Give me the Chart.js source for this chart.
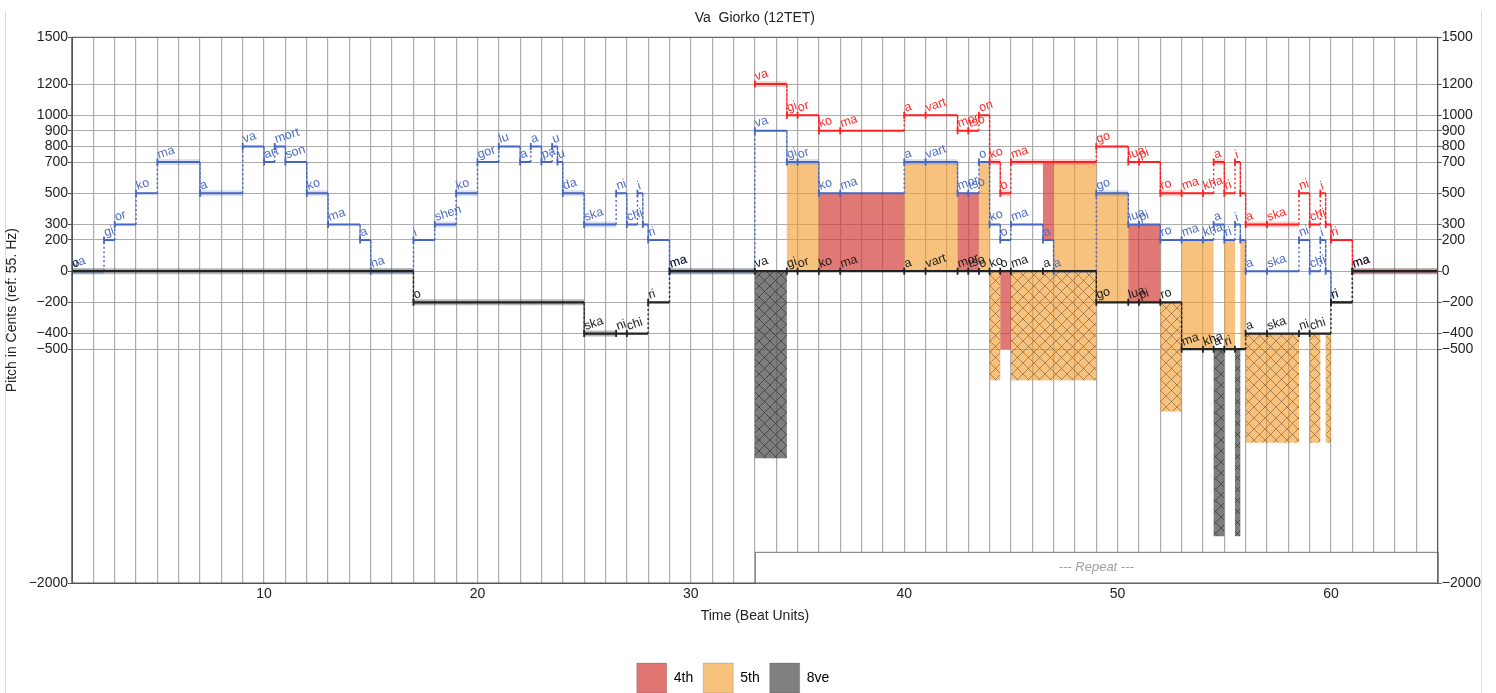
<!DOCTYPE html>
<html lang="en">
<head>
<meta charset="UTF-8">
<title>Va Giorko (12TET)</title>
<script src="https://cdn.jsdelivr.net/npm/chart.js"></script>
<style>
  html, body { margin: 0; padding: 0; background: #fff; }
  canvas { display: block; }
</style>
</head>
<body>
<canvas id="chart" width="1496" height="693"></canvas>
<script>
  // axes
  const xMin = 1, xMax = 65;
  const yMin = -2000, yMax = 1500;
  const yTicks = [1500, 1200, 1000, 900, 800, 700, 500, 300, 200, 0, -200, -400, -500, -2000];

  // voices: note onsets (last value = end of last note), pitch in cents, syllables
  const blueBeats = [1, 2.5, 3, 4, 5, 7, 9, 10, 10.5, 11, 12, 13, 14.5, 15, 17, 18, 19, 20, 21, 22, 22.5, 23, 23.5, 23.75, 24, 25, 26.5, 27, 27.5, 27.75, 28, 29,
                     33, 34.5, 35, 36, 37, 40, 41, 42.5, 43, 43.5, 44, 44.5, 45, 46.5, 47, 49, 50.5, 51, 52, 53, 54, 54.5, 55, 55.5, 55.75, 56, 57, 58.5, 59, 59.5, 59.75, 60, 61, 65];
  const bluePitch = [0, 200, 300, 500, 700, 500, 800, 700, 800, 700, 500, 300, 200, 0, 200, 300, 500, 700, 800, 700, 800, 700, 800, 700, 500, 300, 500, 300, 500, 300, 200, 0,
                     900, 700, 700, 500, 500, 700, 700, 500, 500, 700, 300, 200, 300, 200, 0, 500, 300, 300, 200, 200, 200, 300, 200, 300, 200, 0, 0, 200, 0, 200, 0, -200, 0];
  const blueSyl = ['va', 'gi', 'or', 'ko', 'ma', 'a', 'va', 'art', 'mort', 'son', 'ko', 'ma', 'a', 'na', 'i', 'shen', 'ko', 'gor', 'lu', 'a', 'a', 'pa', 'u', 'u', 'da', 'ska', 'ni', 'chi', 'i', '', 'ri', 'ma',
                   'va', 'gi', 'or', 'ko', 'ma', 'a', 'vart', 'mor', 'tso', 'o', 'ko', 'o', 'ma', 'a', 'a', 'go', 'lua', 'pi', 'ro', 'ma', 'kha', 'a', 'ri', 'i', '', 'a', 'ska', 'ni', 'chi', 'i', '', 'ri', 'ma'];
  const blueHeld = [1, 5, 7, 12, 15, 18, 19, 24, 25, 29, 34.5, 35, 40, 41, 49];

  const redBeats = [33, 34.5, 35, 36, 37, 40, 41, 42.5, 43, 43.5, 44, 44.5, 45, 49, 50.5, 51, 52, 53, 54, 54.5, 55, 55.5, 55.75, 56, 57, 58.5, 59, 59.5, 59.75, 60, 61, 65];
  const redPitch = [1200, 1000, 1000, 900, 900, 1000, 1000, 900, 900, 1000, 700, 500, 700, 800, 700, 700, 500, 500, 500, 700, 500, 700, 500, 300, 300, 500, 300, 500, 300, 200, 0];
  const redSyl = ['va', 'gi', 'or', 'ko', 'ma', 'a', 'vart', 'mor', 'tso', 'on', 'ko', 'o', 'ma', 'go', 'lua', 'pi', 'ro', 'ma', 'kha', 'a', 'ri', 'i', '', 'a', 'ska', 'ni', 'chi', 'i', '', 'ri', 'ma'];
  const redHeld = [33, 44, 44.5, 45, 52, 54.5, 56, 57, 61];

  const blackBeats = [1, 17, 25, 26.5, 27, 28, 29, 33, 34.5, 35, 36, 37, 40, 41, 42.5, 43, 43.5, 44, 44.5, 45, 46.5, 49, 50.5, 51, 52, 53, 54, 54.5, 55, 55.5, 56, 57, 58.5, 59, 60, 61, 65];
  const blackPitch = [0, -200, -400, -400, -400, -200, 0, 0, 0, 0, 0, 0, 0, 0, 0, 0, 0, 0, 0, 0, 0, -200, -200, -200, -200, -500, -500, -500, -500, -500, -400, -400, -400, -400, -200, 0];
  const blackSyl = ['o', 'o', 'ska', 'ni', 'chi', 'ri', 'ma', 'va', 'gi', 'or', 'ko', 'ma', 'a', 'vart', 'mor', 'tso', 'o', 'ko', 'o', 'ma', 'a', 'go', 'lua', 'pi', 'ro', 'ma', 'kha', 'a', 'ri', '', 'a', 'ska', 'ni', 'chi', 'ri', 'ma'];
  const blackHeld = [1, 17, 25, 29, 61];

  // interval areas: [from beat, to beat, low cents, high cents]
  const fourthSolid = [[36, 40, 0, 500], [42.5, 43.5, 0, 500], [46.5, 47, 200, 700], [50.5, 52, -200, 300], [44.5, 45, -500, 0]];
  const fifthSolid = [[34.5, 36, 0, 700], [40, 42.5, 0, 700], [43.5, 44, 0, 700], [47, 49, 0, 700], [49, 50.5, -200, 500],
                      [53, 54.5, -500, 200], [55, 55.5, -500, 200], [55.75, 56, -500, 200]];
  const fifthHatched = [[44, 44.5, -700, 0], [45, 49, -700, 0], [52, 53, -900, -200], [56, 58.5, -1100, -400], [59, 59.5, -1100, -400], [59.75, 60, -1100, -400]];
  const octaveHatched = [[33, 34.5, -1200, 0], [54.5, 55, -1700, -500], [55.5, 55.75, -1700, -500]];

  const repeatSpan = [33, 65];
  const repeatBand = [-2000, -1800];
  const legendNames = ['4th', '5th', '8ve'];
  const legendColors = ['#df7671', '#f6c27e', '#808080'];

  const FONT = '"Liberation Sans", Arial, sans-serif';
  const canvas = document.getElementById('chart');

  function stepPoints(beats, pitch) {
    const pts = [];
    pitch.forEach((p, i) => { pts.push({ x: beats[i], y: p }, { x: beats[i + 1], y: p }); });
    return pts;
  }
  function heldPoints(beats, pitch, held) {
    const pts = [];
    pitch.forEach((p, i) => {
      if (held.includes(beats[i])) pts.push({ x: beats[i], y: p }, { x: beats[i + 1], y: p }, { x: beats[i + 1], y: null });
    });
    return pts;
  }
  const vertical = c => c.p0.parsed.x === c.p1.parsed.x;

  function voice(label, beats, pitch, color, width) {
    return {
      label,
      data: stepPoints(beats, pitch),
      showLine: true,
      borderColor: color,
      backgroundColor: color,
      borderWidth: width,
      pointStyle: 'line',
      rotation: 90,
      pointRadius: c => (c.dataIndex % 2 === 0 ? 3.5 : 0),
      pointBorderColor: color,
      pointBorderWidth: 1.8,
      segment: {
        borderDash: c => (vertical(c) ? [2, 2.5] : undefined),
        borderWidth: c => (vertical(c) ? 1.4 : undefined)
      }
    };
  }
  function glow(label, beats, pitch, held, color) {
    return {
      label,
      data: heldPoints(beats, pitch, held),
      showLine: true,
      spanGaps: false,
      borderColor: color,
      borderWidth: 6,
      borderCapStyle: 'butt',
      pointRadius: 0
    };
  }

  function hatch(base, line) {
    const t = document.createElement('canvas');
    t.width = 11; t.height = 11;
    const g = t.getContext('2d');
    g.fillStyle = base; g.fillRect(0, 0, 11, 11);
    g.strokeStyle = line; g.lineWidth = 0.9;
    g.beginPath();
    g.moveTo(-1, -1); g.lineTo(12, 12);
    g.moveTo(12, -1); g.lineTo(-1, 12);
    g.stroke();
    return canvas.getContext('2d').createPattern(t, 'repeat');
  }

  const fourthFill = 'rgba(209,58,51,0.68)';
  const fifthFill = 'rgba(240,153,40,0.6)';
  const octaveFill = 'rgba(90,90,90,0.78)';
  const fifthHatch = hatch(fifthFill, 'rgba(80,55,30,0.5)');
  const octaveHatch = hatch(octaveFill, 'rgba(30,30,30,0.6)');

  const intervalPlugin = {
    id: 'intervals',
    beforeDraw(chart) {
      const { ctx } = chart;
      ctx.save();
      ctx.strokeStyle = '#dcdcdc';
      ctx.lineWidth = 1;
      ctx.beginPath();
      ctx.moveTo(5.5, 11); ctx.lineTo(5.5, 693);
      ctx.moveTo(1481.5, 11); ctx.lineTo(1481.5, 693);
      ctx.stroke();
      ctx.restore();
    },
    beforeDatasetsDraw(chart) {
      const { ctx, scales: { x, y } } = chart;
      ctx.save();
      const rx0 = x.getPixelForValue(repeatSpan[0]), rx1 = x.getPixelForValue(repeatSpan[1]);
      const ry0 = y.getPixelForValue(repeatBand[1]), ry1 = y.getPixelForValue(repeatBand[0]);
      ctx.fillStyle = '#fff';
      ctx.fillRect(rx0, ry0, rx1 - rx0, ry1 - ry0);
      ctx.strokeStyle = '#777';
      ctx.lineWidth = 1;
      ctx.strokeRect(rx0 + 0.5, ry0 + 0.5, rx1 - rx0, ry1 - ry0);
      ctx.fillStyle = '#a0a0a0';
      ctx.font = 'italic 13px ' + FONT;
      ctx.textAlign = 'center';
      ctx.textBaseline = 'middle';
      ctx.fillText('--- Repeat ---', (rx0 + rx1) / 2, (ry0 + ry1) / 2);

      const draw = (list, style) => list.forEach(([b0, b1, c0, c1]) => {
        const px0 = x.getPixelForValue(b0), px1 = x.getPixelForValue(b1);
        const py0 = y.getPixelForValue(c1), py1 = y.getPixelForValue(c0);
        ctx.fillStyle = style;
        ctx.fillRect(px0, py0, px1 - px0, py1 - py0);
      });
      draw(fifthSolid, fifthFill);
      draw(fourthSolid, fourthFill);
      draw(fifthHatched, fifthHatch);
      draw(octaveHatched, octaveHatch);
      ctx.restore();
    },
    afterDatasetsDraw(chart) {
      const { ctx, chartArea: a, scales: { x, y } } = chart;
      ctx.save();
      ctx.font = '12.5px ' + FONT;
      ctx.textBaseline = 'alphabetic';
      const label = (beats, pitch, syl, color) => {
        ctx.fillStyle = color;
        syl.forEach((s, i) => {
          if (!s) return;
          ctx.save();
          ctx.translate(x.getPixelForValue(beats[i]) + 1.5, y.getPixelForValue(pitch[i]) - 3.5);
          ctx.rotate(-0.32);
          ctx.fillText(s, 0, 0);
          ctx.restore();
        });
      };
      label(redBeats, redPitch, redSyl, '#ff2a2a');
      label(blueBeats, bluePitch, blueSyl, '#4f6fc4');
      label(blackBeats, blackPitch, blackSyl, '#1e1e1e');
      ctx.strokeStyle = '#555';
      ctx.lineWidth = 1;
      ctx.strokeRect(a.left, a.top, a.right - a.left, a.bottom - a.top);
      ctx.restore();
    }
  };

  const setTicks = s => { s.ticks = yTicks.map(v => ({ value: v })); };
  const centsLabel = v => (v < 0 ? '\u2212' + Math.abs(v) : String(v));

  new Chart(canvas, {
    type: 'scatter',
    data: {
      datasets: [
        voice('black', blackBeats, blackPitch, '#222222', 2.2),
        voice('blue', blueBeats, bluePitch, '#4565c2', 2),
        voice('red', redBeats, redPitch, '#ff1f1f', 2),
        glow('black held', blackBeats, blackPitch, blackHeld, 'rgba(60,60,60,0.35)'),
        glow('blue held', blueBeats, bluePitch, blueHeld, 'rgba(70,100,190,0.2)'),
        glow('red held', redBeats, redPitch, redHeld, 'rgba(255,70,70,0.25)')
      ]
    },
    options: {
      responsive: false,
      animation: false,
      events: [],
      layout: { padding: { top: 0, left: -30, right: 0, bottom: -10 } },
      plugins: {
        title: {
          display: true,
          text: 'Va  Giorko (12TET)',
          fullSize: false,
          color: '#222',
          font: { family: FONT, size: 14, weight: 'normal' },
          padding: { top: 10, bottom: 10.5 }
        },
        legend: {
          position: 'bottom',
          labels: {
            boxWidth: 30,
            boxHeight: 30,
            padding: 10,
            color: '#222',
            font: { family: FONT, size: 14 },
            generateLabels: () => legendNames.map((t, i) => ({
              text: t, fillStyle: legendColors[i], strokeStyle: 'rgba(0,0,0,0.15)', lineWidth: 1, hidden: false
            }))
          }
        },
        tooltip: { enabled: false }
      },
      scales: {
        x: {
          type: 'linear',
          min: xMin,
          max: xMax,
          ticks: {
            stepSize: 1,
            autoSkip: false,
            maxTicksLimit: 100,
            maxRotation: 0,
            padding: 3,
            color: '#222',
            font: { family: FONT, size: 14 },
            callback: v => (v % 10 === 0 ? v : '')
          },
          grid: { color: '#acacac', lineWidth: 1.2, drawTicks: false },
          border: { color: '#555' },
          title: {
            display: true,
            text: 'Time (Beat Units)',
            color: '#222',
            font: { family: FONT, size: 14 },
            padding: { top: 4, bottom: 28 }
          },
          afterFit: s => { s.height = 70; }
        },
        y: {
          type: 'linear',
          position: 'left',
          min: yMin,
          max: yMax,
          afterBuildTicks: setTicks,
          ticks: { padding: 0, color: '#222', font: { family: FONT, size: 14 }, callback: centsLabel },
          grid: { color: '#acacac', lineWidth: 1, drawTicks: true, tickLength: 4, tickColor: '#555' },
          border: { color: '#555' },
          title: {
            display: true,
            text: 'Pitch in Cents (ref: 55. Hz)',
            color: '#222',
            font: { family: FONT, size: 14 },
            padding: { top: 34, bottom: 4 }
          },
          afterFit: s => { s.width = 102; }
        },
        y2: {
          type: 'linear',
          position: 'right',
          min: yMin,
          max: yMax,
          afterBuildTicks: setTicks,
          ticks: { padding: 0, color: '#222', font: { family: FONT, size: 14 }, callback: centsLabel },
          grid: { drawOnChartArea: false, drawTicks: true, tickLength: 4, tickColor: '#555' },
          border: { color: '#555' },
          afterFit: s => { s.width = 58.3; }
        }
      }
    },
    plugins: [intervalPlugin]
  });
</script>
</body>
</html>
